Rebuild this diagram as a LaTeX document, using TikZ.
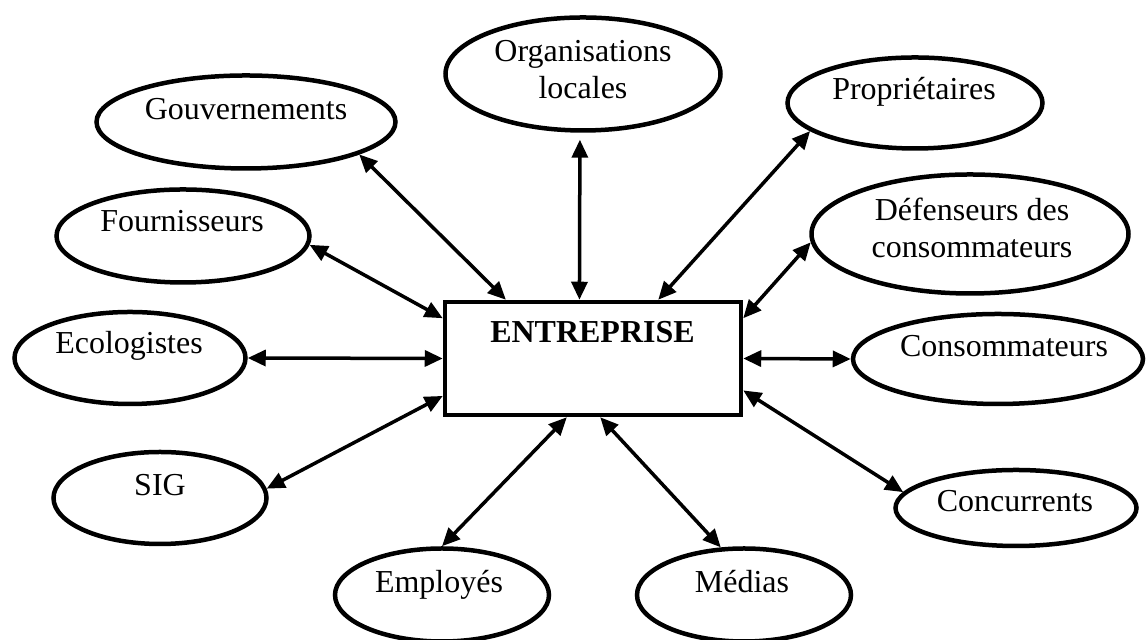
\documentclass[tikz,border=0pt]{standalone}
\usepackage{fontspec}
\setmainfont{Liberation Serif}
\usetikzlibrary{arrows.meta,shapes.geometric}

\tikzset{
  party/.style={draw, ellipse, line width=0.09cm, inner sep=0pt},
  firm/.style={draw, rectangle, line width=0.09cm, inner sep=0pt,
    minimum width=5.92cm, minimum height=2.26cm},
  lbl/.style={font=\fontsize{18.2}{21}\selectfont, inner sep=0pt},
  link/.style={<->, >={Triangle[length=0.36cm,width=0.32cm]}, line width=0.07cm}
}

\begin{document}
\begin{tikzpicture}
\useasboundingbox (0,0) rectangle (22.94,12.8);

\node[firm] (ent) at (11.86,5.63) {};
\node[lbl, anchor=base, font=\fontsize{18.2}{21}\selectfont\bfseries] (ent-t) at (11.85,5.94) {ENTREPRISE};

\node[party, minimum width=5.98cm, minimum height=1.86cm] (gouv) at (4.92,10.36) {};
\node[lbl, anchor=base] (gouv-t) at (4.92,10.40) {Gouvernements};

\node[party, minimum width=5.5cm, minimum height=2.26cm] (orgloc) at (11.66,11.32) {};
\node[lbl, align=center] (orgloc-t) at (11.66,11.40) {Organisations\\locales};

\node[party, minimum width=5.1cm, minimum height=1.82cm] (proprio) at (18.30,10.74) {};
\node[lbl, anchor=base] (proprio-t) at (18.28,10.80) {Propriétaires};

\node[party, minimum width=5.06cm, minimum height=1.86cm] (fourn) at (3.66,8.08) {};
\node[lbl, anchor=base] (fourn-t) at (3.64,8.16) {Fournisseurs};

\node[party, minimum width=6.34cm, minimum height=2.38cm] (defens) at (19.40,8.12) {};
\node[lbl, align=center] (defens-t) at (19.44,8.24) {Défenseurs des\\consommateurs};

\node[party, minimum width=4.62cm, minimum height=1.84cm] (ecolo) at (2.60,5.64) {};
\node[lbl, anchor=base] (ecolo-t) at (2.58,5.72) {Ecologistes};

\node[party, minimum width=5.8cm, minimum height=1.8cm] (conso) at (19.96,5.62) {};
\node[lbl, anchor=base] (conso-t) at (20.08,5.66) {Consommateurs};

\node[party, minimum width=4.26cm, minimum height=1.84cm] (sig) at (3.20,2.84) {};
\node[lbl, anchor=base] (sig-t) at (3.20,2.88) {SIG};

\node[party, minimum width=4.82cm, minimum height=1.52cm] (concur) at (20.32,2.64) {};
\node[lbl, anchor=base] (concur-t) at (20.30,2.56) {Concurrents};

\node[party, minimum width=4.28cm, minimum height=1.86cm] (employ) at (8.84,0.90) {};
\node[lbl, anchor=base] (employ-t) at (8.78,0.94) {Employés};

\node[party, minimum width=4.28cm, minimum height=1.86cm] (medias) at (14.88,0.90) {};
\node[lbl, anchor=base] (medias-t) at (14.84,0.94) {Médias};

\draw[link] (gouv.-16) -- (ent.146);

\draw[link, shorten <=0.14cm] (orgloc.-93.5) -- (ent.103);

\draw[link] (proprio.195) -- (ent.42);

\draw[link] (fourn.-4) -- (ent.165);

\draw[link] (defens.183) -- (ent.15.3);

\draw[link] (ecolo.east) -- (ent.west);

\draw[link] (conso.west) -- (ent.east);

\draw[link] (sig.5) -- (ent.194.2);

\draw[link] (concur.172.6) -- (ent.-12.6);

\draw[link] (employ.north) -- (ent.246.4);

\draw[link] (medias.116.6) -- (ent.-83.3);
\end{tikzpicture}
\end{document}
